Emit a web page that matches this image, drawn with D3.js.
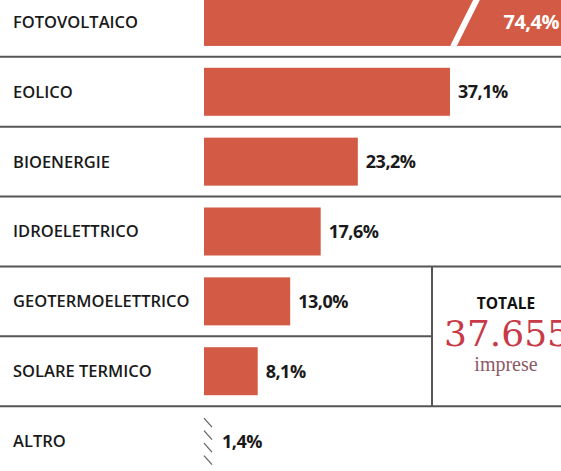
<!DOCTYPE html>
<html><head><meta charset="utf-8">
<script src="https://cdn.jsdelivr.net/npm/d3@7"></script>
<style>html,body{margin:0;padding:0;background:#fff;}svg{display:block;}</style>
</head><body>
<svg id="c" width="561" height="471"></svg>
<script>
const categories = ["FOTOVOLTAICO","EOLICO","BIOENERGIE","IDROELETTRICO","GEOTERMOELETTRICO","SOLARE TERMICO","ALTRO"];
const values = [74.4, 37.1, 23.2, 17.6, 13.0, 8.1, 1.4];
const valueLabels = ["74,4%","37,1%","23,2%","17,6%","13,0%","8,1%","1,4%"];
const totalLabel = "TOTALE";
const totalValue = "37.655";
const totalUnit = "imprese";

const W = 561, H = 471;
const svg = d3.select("#c");
const x = d3.scaleLinear().domain([0, 100]).range([204, 204 + 663]);
const y = d3.scaleBand().domain(categories).range([-13, 476]).padding(0);
const barH = 48;
const barColor = "#d35b45";
const lineColor = "#555";

// separators
const bounds = categories.slice(1).map(c => y(c));
svg.selectAll("line.sep").data(bounds).join("line")
  .attr("x1", 0).attr("x2", (d,i) => i === 4 ? 432 : W)
  .attr("y1", d => d).attr("y2", d => d)
  .attr("stroke", lineColor).attr("stroke-width", 2);

// vertical line for total box
svg.append("line").attr("x1", 432).attr("x2", 432)
  .attr("y1", y("GEOTERMOELETTRICO")).attr("y2", y("ALTRO"))
  .attr("stroke", lineColor).attr("stroke-width", 2);

// category labels
svg.selectAll("text.cat").data(categories).join("text")
  .attr("x", 13).attr("y", d => y(d) + y.bandwidth()/2)
  .attr("dy", "0.36em")
  .attr("font-family", "'Open Sans', sans-serif").attr("font-weight", 600)
  .attr("font-size", 16.5).attr("fill", "#1a1a1a")
  .text(d => d);

const data = categories.map((c,i) => ({c, v: values[i], l: valueLabels[i]}));
const main = data.filter(d => d.c !== "ALTRO");

// bars (clipped at chart edge)
svg.selectAll("rect.bar").data(main).join("rect")
  .attr("x", x(0)).attr("y", d => y(d.c) + (y.bandwidth()-barH)/2)
  .attr("width", d => Math.min(x(d.v), W + 5) - x(0))
  .attr("height", barH).attr("fill", barColor);

// break on over-scale bar
const big = main.filter(d => x(d.v) > W);
big.forEach(d => {
  const top = y(d.c) + (y.bandwidth()-barH)/2;
  svg.append("line")
    .attr("x1", 453).attr("y1", top + barH + 1)
    .attr("x2", 453 + (barH + 2) * 0.5).attr("y2", top - 1)
    .attr("stroke", "#fff").attr("stroke-width", 6);
});

// value labels
svg.selectAll("text.val").data(data).join("text")
  .attr("x", d => x(d.v) > W ? W - 2 : (d.c === "ALTRO" ? 222 : x(d.v) + 8))
  .attr("text-anchor", d => x(d.v) > W ? "end" : "start")
  .attr("y", d => y(d.c) + y.bandwidth()/2)
  .attr("dy", "0.36em")
  .attr("font-family", "'Open Sans', sans-serif").attr("font-weight", 700)
  .attr("font-size", d => x(d.v) > W ? 20 : 18).attr("letter-spacing", -0.5)
  .attr("fill", d => x(d.v) > W ? "#fff" : "#1a1a1a")
  .text(d => d.l);

// hatch for tiny value
const altro = data.find(d => d.c === "ALTRO");
const hy = y(altro.c) + (y.bandwidth()-barH)/2;
d3.range(4).forEach(i => {
  svg.append("line")
    .attr("x1", 204).attr("y1", hy + 1 + i*12.5)
    .attr("x2", 212).attr("y2", hy + 10 + i*12.5)
    .attr("stroke", "#666").attr("stroke-width", 1.3);
});

// total box
const cx = 506;
const boxTop = y("GEOTERMOELETTRICO");
svg.append("text").attr("x", cx).attr("y", boxTop + 43)
  .attr("text-anchor", "middle")
  .attr("font-family", "'Open Sans', sans-serif").attr("font-weight", 700)
  .attr("font-size", 15.5).attr("fill", "#111").text(totalLabel);
svg.append("text").attr("x", 444).attr("y", boxTop + 80)
  .attr("font-family", "'DejaVu Serif', 'Liberation Serif', serif")
  .attr("font-size", 36).attr("fill", "#c93a48").text(totalValue);
svg.append("text").attr("x", cx).attr("y", boxTop + 105)
  .attr("text-anchor", "middle")
  .attr("font-family", "'Liberation Serif', serif")
  .attr("font-size", 20).attr("fill", "#8c5a66").text(totalUnit);
</script>
</body></html>
